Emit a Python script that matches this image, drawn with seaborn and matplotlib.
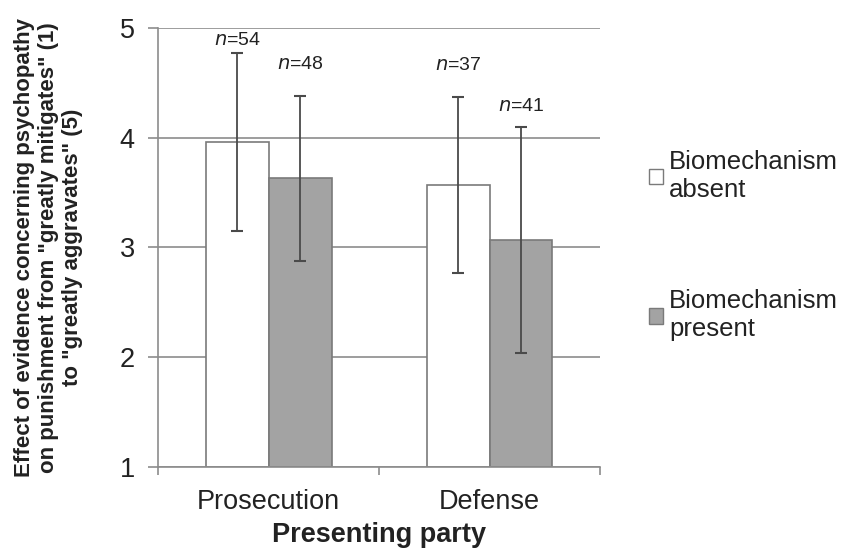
import matplotlib
matplotlib.use("Agg")
import matplotlib.pyplot as plt
import seaborn as sns
import pandas as pd
from matplotlib.patches import Patch

# Group means, standard deviations and sample sizes
parties = ["Prosecution", "Defense"]
conditions = ["Biomechanism absent", "Biomechanism present"]
mean_absent = [3.96, 3.57]
mean_present = [3.63, 3.07]
sd_absent = [0.81, 0.80]
sd_present = [0.75, 1.03]
n_absent = [54, 37]
n_present = [48, 41]

# Heights at which the sample-size labels sit
label_y_absent = [4.89, 4.66]
label_y_present = [4.67, 4.29]

df = pd.DataFrame({
    "party": parties * 2,
    "condition": [conditions[0]] * 2 + [conditions[1]] * 2,
    "mean": mean_absent + mean_present,
    "sd": sd_absent + sd_present,
    "n": n_absent + n_present,
    "label_y": label_y_absent + label_y_present,
})

sns.set_theme(style="white")
plt.rcParams["font.family"] = ["Liberation Sans", "DejaVu Sans"]

fig = plt.figure(figsize=(8.51, 5.53), dpi=100)
ax = fig.add_axes([0.186, 0.156, 0.519, 0.793])

fills = {conditions[0]: "#ffffff", conditions[1]: "#a3a3a3"}
sns.barplot(data=df, x="party", y="mean", hue="condition", order=parties,
            hue_order=conditions, palette=fills, width=0.57, errorbar=None,
            edgecolor="#7a7a7a", linewidth=1.2, legend=False, ax=ax)

# Bars start from the axis floor at 1
for patch in ax.patches:
    h = patch.get_height()
    patch.set_y(1)
    patch.set_height(h - 1)

for cont, cond in zip(ax.containers, conditions):
    sub = df[df["condition"] == cond].set_index("party").loc[parties]
    for bar, (_, row) in zip(cont, sub.iterrows()):
        cx = bar.get_x() + bar.get_width() / 2
        ax.errorbar(cx, row["mean"], yerr=row["sd"], fmt="none",
                    ecolor="#4a4a4a", elinewidth=1.3, capsize=4,
                    capthick=1.5, zorder=4)
        ax.text(cx, row["label_y"], r"$\it{n}$" + f"={row['n']}",
                ha="center", va="center", fontsize=14, color="#222222")

ax.set_ylim(1, 5)
ax.set_xlim(-0.5, 1.5)
ax.set_yticks([1, 2, 3, 4, 5])
ax.yaxis.grid(True, color="#8c8c8c", linewidth=1.2)
ax.set_axisbelow(True)
for side in ["top", "right"]:
    ax.spines[side].set_visible(False)
for side in ["left", "bottom"]:
    ax.spines[side].set_color("#8c8c8c")
    ax.spines[side].set_linewidth(1.2)

ax.tick_params(axis="y", which="major", direction="out", length=7,
               width=1.2, color="#8c8c8c", labelsize=19.5, pad=10,
               left=True, labelcolor="#222222")
ax.tick_params(axis="x", which="major", length=0, labelsize=19.5, pad=16,
               labelcolor="#222222")
ax.set_xticks([-0.5, 0.5, 1.5], minor=True)
ax.tick_params(axis="x", which="minor", direction="out", length=6,
               width=1.2, color="#8c8c8c", bottom=True)

ax.set_xlabel("Presenting party", fontsize=19.5, fontweight="bold",
              color="#222222", labelpad=5)
ax.set_ylabel("Effect of evidence concerning psychopathy\n"
              "on punishment from \"greatly mitigates\" (1)\n"
              "to \"greatly aggravates\" (5)",
              fontsize=16, fontweight="bold", color="#222222",
              labelpad=26, linespacing=1.2)

handles = [Patch(facecolor=fills[c], edgecolor="#7a7a7a", linewidth=1)
           for c in conditions]
fig.legend(handles, ["Biomechanism\nabsent", "Biomechanism\npresent"],
           loc="upper left", bbox_to_anchor=(0.735, 0.77), frameon=False,
           fontsize=18.5, handlelength=0.55, handleheight=0.55,
           handletextpad=0.25, labelspacing=3.4, labelcolor="#222222")

fig.savefig("out.png", dpi=100)
